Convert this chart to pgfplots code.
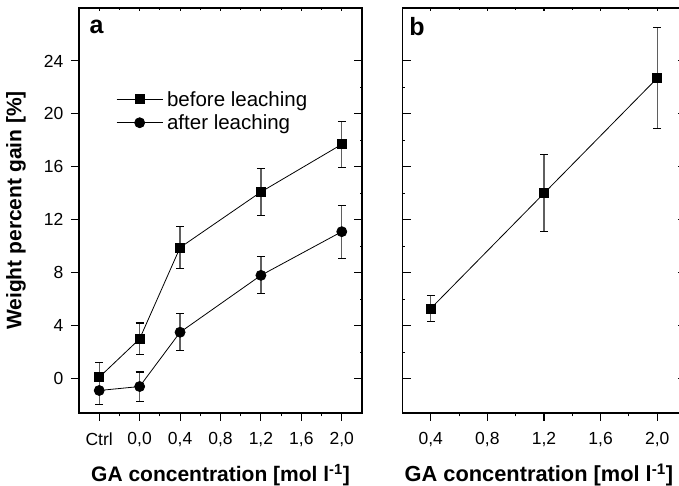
\documentclass[border=0pt]{standalone}
\usepackage{pgfplots}
\usepackage{pgfplotstable}
\pgfplotsset{compat=1.18}
\usepackage{fontspec}
\setmainfont{Liberation Sans}
\definecolor{errgray}{RGB}{95,95,95}

\pgfplotstableread{
x y e
-0.4 0.1 1.1
0.0 3.0 1.2
0.4 9.9 1.6
1.2 14.1 1.75
2.0 17.7 1.75
}\before
\pgfplotstableread{
x y e
-0.4 -0.9 1.05
0.0 -0.6 1.1
0.4 3.5 1.4
1.2 7.8 1.4
2.0 11.1 2.0
}\after
\pgfplotstableread{
x y e
0.4 5.3 1.0
1.2 14.0 2.9
2.0 22.7 3.8
}\panelb

\pgfplotsset{
  panel/.style={
    scale only axis, width=283pt, height=405pt,
    anchor=south west,
    ymin=-2.6, ymax=28,
    axis line style={line width=1.1pt},
    every tick/.style={black, line width=1.1pt},
    major tick length=8pt, minor tick length=3.5pt,
    tick label style={font=\fontsize{17.5}{20}\selectfont},
    /pgf/number format/assume math mode=true,
    clip=false,
  },
  errs/.style={
    error bars/.cd, y dir=both, y explicit,
    error bar style={errgray, line width=1.2pt},
    error mark options={rotate=90, mark size=4pt, black, line width=1.1pt},
  },
}

\begin{document}
\begin{tikzpicture}
% ---------- panel a ----------
\begin{axis}[panel, at={(79pt,73pt)},
  xmin=-0.6, xmax=2.2,
  xtick={-0.4,0,0.4,0.8,1.2,1.6,2.0},
  xticklabels={Ctrl,{0,0},{0,4},{0,8},{1,2},{1,6},{2,0}},
  minor x tick num=1,
  ytick={0,4,...,24},
  xtick pos=left, ytick pos=left, tick align=outside,
  xticklabel style={yshift=-8pt},
  yticklabel style={xshift=-4pt},
  xlabel={GA concentration [mol l\textsuperscript{-1}]},
  ylabel={Weight percent gain [\%]},
  every axis x label/.style={at={(axis description cs:0.5,-0.170)}, anchor=base, font=\fontsize{21}{24}\selectfont\bfseries},
  every axis y label/.style={at={(axis description cs:-0.223,0.5)}, rotate=90, anchor=center, font=\fontsize{21}{24}\selectfont\bfseries},
  legend style={at={(axis description cs:0.131,0.80)}, anchor=north west, draw=none, fill=none,
    font=\fontsize{20.5}{22}\selectfont, inner sep=0pt, row sep=3pt,
    /tikz/every odd column/.style={column sep=2pt}},
  legend cell align=left,
  legend image code/.code={\draw[mark repeat=2,mark phase=2,#1] plot coordinates {(0pt,0pt)(23pt,0pt)(46pt,0pt)};},
]
\addplot[black, line width=0.8pt, mark=square*, mark size=4.5pt, mark options={solid}, errs]
  table[x=x, y=y, y error=e] {\before};
\addlegendentry{before leaching}
\addplot[black, line width=0.8pt, mark=*, mark size=5pt, mark options={solid}, errs]
  table[x=x, y=y, y error=e] {\after};
\addlegendentry{after leaching}
\node[anchor=base west, font=\fontsize{25}{25}\selectfont\bfseries] at (axis description cs:0.025,0.936) {a};
\end{axis}
\begin{axis}[panel, at={(79pt,73pt)},
  xmin=-0.6, xmax=2.2, xtick=\empty,
  ytick={0,4,...,24}, minor y tick num=1,
  ytick pos=right, tick align=inside, yticklabels={},
  minor tick length=2pt,
]
\end{axis}
\begin{axis}[panel, at={(79pt,73pt)},
  xmin=-0.6, xmax=2.2, xtick={-0.4,0,0.4,0.8,1.2,1.6,2.0}, minor x tick num=1,
  ytick=\empty, xtick pos=right, tick align=inside, xticklabels={},
  major tick length=3pt, minor tick length=2pt,
]
\end{axis}
% ---------- panel b ----------
\begin{axis}[panel, at={(402.5pt,73pt)},
  xmin=0.2, xmax=2.2,
  xtick={0.4,0.8,1.2,1.6,2.0},
  xticklabels={{0,4},{0,8},{1,2},{1,6},{2,0}},
  minor x tick num=1,
  ytick=\empty,
  xtick pos=left, tick align=outside,
  xticklabel style={yshift=-8pt},
  xlabel={GA concentration [mol l\textsuperscript{-1}]},
  every axis x label/.style={at={(axis description cs:0.482,-0.170)}, anchor=base, font=\fontsize{21.8}{24}\selectfont\bfseries},
]
\addplot[black, line width=0.8pt, mark=square*, mark size=4.5pt, mark options={solid}, errs]
  table[x=x, y=y, y error=e] {\panelb};
\node[anchor=base west, font=\fontsize{25}{25}\selectfont\bfseries] at (axis description cs:0.012,0.933) {b};
\end{axis}
\begin{axis}[panel, at={(402.5pt,73pt)},
  xmin=0.2, xmax=2.2, xtick=\empty,
  ytick={0,4,...,24}, minor y tick num=1,
  ytick pos=both, tick align=inside, yticklabels={},
  minor tick length=2pt,
]
\end{axis}
\begin{axis}[panel, at={(402.5pt,73pt)},
  xmin=0.2, xmax=2.2, xtick={0.4,0.8,1.2,1.6,2.0}, minor x tick num=1,
  ytick=\empty, xtick pos=right, tick align=inside, xticklabels={},
  major tick length=3pt, minor tick length=2pt,
]
\end{axis}
\pgfresetboundingbox
\path[use as bounding box] (0pt,0pt) rectangle (679pt,486pt);
\end{tikzpicture}
\end{document}
